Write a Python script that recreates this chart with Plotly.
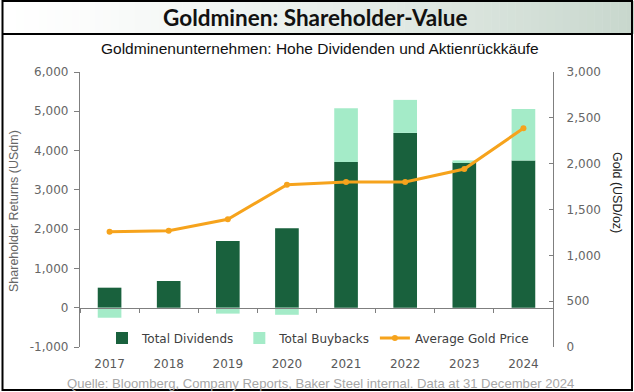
import plotly.graph_objects as go

# ---- data ----
years = ["2017", "2018", "2019", "2020", "2021", "2022", "2023", "2024"]
total_dividends = [510, 680, 1700, 2020, 3710, 4450, 3700, 3750]
total_buybacks = [-255, 0, -150, -180, 1370, 840, 50, 1310]
avg_gold_price = [1257, 1268, 1393, 1770, 1799, 1800, 1941, 2386]

left_tickvals = [-1000, 0, 1000, 2000, 3000, 4000, 5000, 6000]
left_ticktext = ["-1,000", "0", "1,000", "2,000", "3,000", "4,000", "5,000", "6,000"]
right_tickvals = [0, 500, 1000, 1500, 2000, 2500, 3000]
right_ticktext = ["0", "500", "1,000", "1,500", "2,000", "2,500", "3,000"]
left_range = [-1000, 6000]
right_range = [0, 3000]

title = "Goldminen: Shareholder-Value"
subtitle = "Goldminenunternehmen: Hohe Dividenden und Aktienrückkäufe"
source = "Quelle: Bloomberg, Company Reports, Baker Steel internal. Data at 31 December 2024"

# ---- layout geometry ----
W, H = 634, 392
ML, MR, MT, MB = 80, 81, 72, 45
PW, PH = W - ML - MR, H - MT - MB


def px(x):
    return (x - ML) / PW


def py(y):
    return (H - MB - y) / PH


DARK = "#19613d"
LIGHT = "#a4ebc8"
GOLD = "#f6a31c"
ARIAL = "Liberation Sans, Arial, sans-serif"
SANS = "DejaVu Sans, Verdana, sans-serif"

fig = go.Figure()
fig.add_trace(go.Bar(x=years, y=total_dividends, name="Total Dividends",
                     marker=dict(color=DARK, line=dict(width=0))))
fig.add_trace(go.Bar(x=years, y=total_buybacks, name="Total Buybacks",
                     marker=dict(color=LIGHT, line=dict(width=0))))
fig.add_trace(go.Scatter(x=years, y=avg_gold_price, name="Average Gold Price",
                         yaxis="y2", mode="lines+markers",
                         line=dict(color=GOLD, width=3),
                         marker=dict(color=GOLD, size=6)))
# helper trace for zero-line category axis
fig.add_trace(go.Scatter(x=years, y=[0] * len(years), xaxis="x2", mode="markers",
                         marker=dict(opacity=0), showlegend=False, hoverinfo="skip"))

shapes = []
# header gradient
n = 80
c0 = (255, 255, 255)
c1 = (200, 215, 205)
for i in range(n):
    t = (i + 0.5) / n
    t2 = t ** 1.3
    col = tuple(int(round(c0[k] + (c1[k] - c0[k]) * t2)) for k in range(3))
    shapes.append(dict(type="rect", xref="paper", yref="paper",
                       x0=px(W * i / n), x1=px(W * (i + 1) / n + 0.5),
                       y0=py(34), y1=py(1), fillcolor="rgb(%d,%d,%d)" % col,
                       line=dict(width=0), layer="below"))
shapes.append(dict(type="line", xref="paper", yref="paper", x0=px(2), x1=px(632),
                   y0=py(34), y1=py(34), line=dict(color="black", width=2)))
shapes.append(dict(type="rect", xref="paper", yref="paper", x0=px(2.5), x1=px(632),
                   y0=py(390), y1=py(1), line=dict(color="black", width=2)))

annotations = [
    dict(text="<b>" + title + "</b>", x=px(315), y=py(17), xref="paper", yref="paper",
         showarrow=False, xanchor="center", yanchor="middle",
         font=dict(family="Lato, sans-serif", size=22.5, color="#111111")),
    dict(text=subtitle, x=px(320), y=py(48), xref="paper", yref="paper",
         showarrow=False, xanchor="center", yanchor="middle",
         font=dict(family=ARIAL, size=15.5, color="#111111")),
    dict(text="Shareholder Returns (USdm)", x=px(14), y=py(211), xref="paper", yref="paper",
         showarrow=False, xanchor="center", yanchor="middle", textangle=-90,
         font=dict(family=ARIAL, size=12.5, color="#666666")),
    dict(text="Gold (USD/oz)", x=px(617), y=py(192), xref="paper", yref="paper",
         showarrow=False, xanchor="center", yanchor="middle", textangle=90,
         font=dict(family=ARIAL, size=12.5, color="#222222")),
    dict(text=source, x=px(65), y=py(383), xref="paper", yref="paper",
         showarrow=False, xanchor="left", yanchor="middle",
         font=dict(family=ARIAL, size=13.1, color="#a6a6a6")),
]

fig.update_layout(
    width=W, height=H,
    margin=dict(l=ML, r=MR, t=MT, b=MB, pad=0),
    paper_bgcolor="white", plot_bgcolor="white",
    barmode="relative", bargap=0.6,
    showlegend=True,
    legend=dict(orientation="h", x=px(318), y=py(338), xanchor="center", yanchor="middle",
                bgcolor="rgba(0,0,0,0)", itemwidth=30, traceorder="normal",
                font=dict(family=SANS, size=12, color="#404040")),
    xaxis=dict(type="category", range=[-0.5, len(years) - 0.5], showline=False,
               ticks="", showgrid=False, zeroline=False, ticklabelstandoff=8,
               tickfont=dict(family=SANS, size=12, color="#595959")),
    xaxis2=dict(type="category", overlaying="x", anchor="free",
                position=(0 - left_range[0]) / (left_range[1] - left_range[0]),
                range=[-0.5, len(years) - 0.5], showline=True, linecolor="#7f7f7f",
                linewidth=1.3, ticks="outside", tickson="boundaries", ticklen=4,
                tickcolor="#7f7f7f", showticklabels=False, showgrid=False, zeroline=False),
    yaxis=dict(range=left_range, tickvals=left_tickvals, ticktext=left_ticktext,
               showline=True, linecolor="#7f7f7f", linewidth=1.3, ticks="outside",
               ticklen=5, tickcolor="#7f7f7f", showgrid=False, zeroline=False,
               ticklabelstandoff=3,
               tickfont=dict(family=SANS, size=12, color="#666666")),
    yaxis2=dict(range=right_range, tickvals=right_tickvals, ticktext=right_ticktext,
                overlaying="y", side="right", anchor="x", showline=True,
                linecolor="#7f7f7f", linewidth=1.3, ticks="inside", ticklen=4,
                tickcolor="#7f7f7f", showgrid=False, zeroline=False,
                ticklabelstandoff=10,
                tickfont=dict(family=SANS, size=12, color="#666666")),
    shapes=shapes,
    annotations=annotations,
)

fig.write_html("out.html", config={"displayModeBar": False},
               post_script="document.body.style.margin='0';document.body.style.overflow='hidden';")
